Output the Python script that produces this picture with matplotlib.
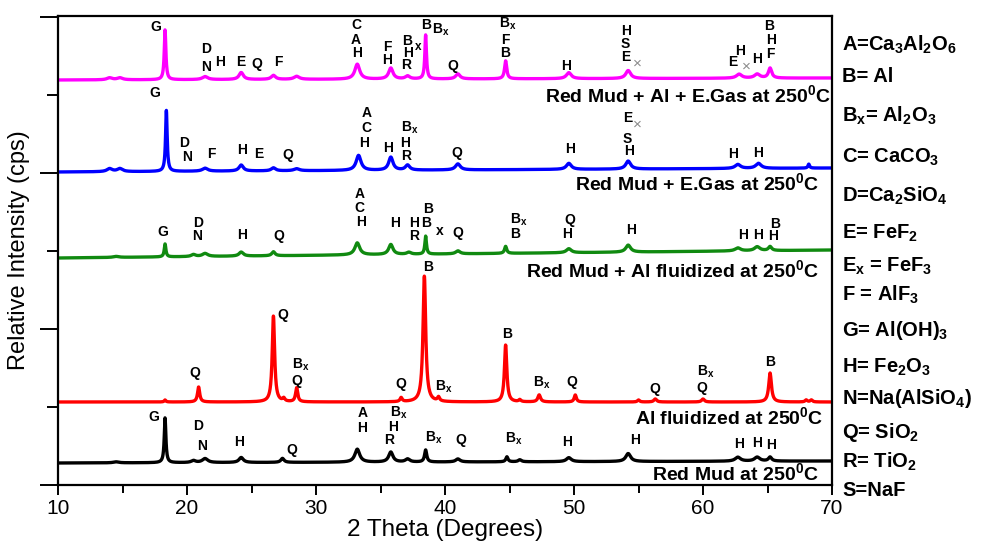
import numpy as np
import matplotlib
matplotlib.use("Agg")
import matplotlib.pyplot as plt
from matplotlib.ticker import MultipleLocator

plt.rcParams['font.family'] = ['Liberation Sans', 'DejaVu Sans']
plt.rcParams['mathtext.fontset'] = 'custom'
plt.rcParams['mathtext.rm'] = 'Liberation Sans:bold'
plt.rcParams['mathtext.it'] = 'Liberation Sans:bold'
plt.rcParams['mathtext.bf'] = 'Liberation Sans:bold'

# peak lists (2theta, height, fwhm) and baselines for each pattern
mag_pos = [14.0, 14.8, 18.3, 21.4, 24.2, 26.7, 28.5, 33.2, 35.8, 37.1, 38.5, 41.0, 44.7, 49.6, 54.2, 62.8, 64.2, 65.2]
mag_hgt = [2, 2, 50, 3, 7, 4, 3, 15, 11, 3, 44, 5, 18, 6, 8, 4, 4, 10]
mag_wid = [0.5, 0.5, 0.15, 0.5, 0.4, 0.4, 0.5, 0.45, 0.4, 0.4, 0.15, 0.4, 0.2, 0.45, 0.45, 0.5, 0.5, 0.3]
mag_base = [405, 407]

blu_pos = [14.0, 14.8, 18.4, 21.4, 24.2, 26.7, 28.5, 33.3, 35.8, 37.1, 41.0, 49.6, 54.2, 62.7, 64.3, 68.2]
blu_hgt = [3, 3, 61, 3, 6, 3, 2, 15, 13, 5, 6, 6, 8, 4, 5, 4]
blu_wid = [0.5, 0.5, 0.15, 0.5, 0.4, 0.4, 0.5, 0.45, 0.4, 0.4, 0.45, 0.45, 0.45, 0.5, 0.5, 0.15]
blu_base = [313, 317]

grn_pos = [14.5, 18.3, 20.5, 21.4, 24.2, 26.7, 33.2, 35.8, 37.2, 38.5, 41.0, 44.7, 49.6, 54.2, 62.7, 64.2, 65.2]
grn_hgt = [1, 13, 2, 3, 4, 4, 12, 10, 2, 18, 3, 7, 4, 7, 3, 4, 4]
grn_wid = [0.5, 0.15, 0.4, 0.5, 0.4, 0.3, 0.45, 0.4, 0.4, 0.15, 0.4, 0.2, 0.45, 0.45, 0.5, 0.5, 0.3]
grn_base = [227, 235]

red_pos = [18.3, 20.9, 26.7, 27.5, 28.5, 36.6, 38.4, 39.5, 44.7, 45.8, 47.3, 50.1, 55.0, 56.3, 60.0, 65.2, 68.0, 68.4]
red_hgt = [2, 15, 86, 3, 14, 4, 126, 4, 57, 2, 7, 7, 2, 3, 3, 29, 2, 2]
red_wid = [0.15, 0.2, 0.22, 0.2, 0.2, 0.2, 0.25, 0.2, 0.22, 0.2, 0.25, 0.2, 0.2, 0.25, 0.25, 0.25, 0.2, 0.2]
red_base = [83, 83]

blk_pos = [14.5, 18.3, 20.5, 21.4, 24.2, 27.4, 33.2, 35.8, 37.1, 38.5, 41.0, 44.8, 45.8, 49.6, 54.2, 62.7, 64.2, 65.2]
blk_hgt = [1, 45, 2, 4, 5, 4, 13, 10, 3, 12, 3, 5, 2, 4, 8, 4, 4, 4]
blk_wid = [0.5, 0.15, 0.4, 0.5, 0.4, 0.3, 0.45, 0.4, 0.4, 0.2, 0.4, 0.2, 0.3, 0.45, 0.45, 0.5, 0.5, 0.3]
blk_base = [22, 24]

sample_names = ["Red Mud + Al + E.Gas at 250$^0$C",
                "Red Mud + E.Gas at 250$^0$C",
                "Red Mud + Al fluidized at 250$^0$C",
                "Al fluidized at 250$^0$C",
                "Red Mud at 250$^0$C"]

phase_key = ["A=Ca$_3$Al$_2$O$_6$", "B= Al", "B$_x$= Al$_2$O$_3$", "C= CaCO$_3$",
             "D=Ca$_2$SiO$_4$", "E= FeF$_2$", "E$_x$ = FeF$_3$", "F = AlF$_3$",
             "G= Al(OH)$_3$", "H= Fe$_2$O$_3$", "N=Na(AlSiO$_4$)", "Q= SiO$_2$",
             "R= TiO$_2$", "S=NaF"]

tt = np.linspace(10, 70, 4001)


def pattern(pos, hgt, wid, base):
    y = np.interp(tt, [10, 70], base)
    for p, h, w in zip(pos, hgt, wid):
        y = y + h / (1 + ((tt - p) / (w / 2)) ** 2)
    return y


fig = plt.figure(figsize=(9.83, 5.41), dpi=100)
ax = fig.add_axes([58 / 983, 56 / 541, 774 / 983, 469 / 541])

traces = [(mag_pos, mag_hgt, mag_wid, mag_base, '#FF00FF'),
          (blu_pos, blu_hgt, blu_wid, blu_base, '#0000FF'),
          (grn_pos, grn_hgt, grn_wid, grn_base, '#108A10'),
          (red_pos, red_hgt, red_wid, red_base, '#FF0000'),
          (blk_pos, blk_hgt, blk_wid, blk_base, '#000000')]
for pos, hgt, wid, base, col in traces:
    ax.plot(tt, pattern(pos, hgt, wid, base), color=col, lw=2.4, solid_joinstyle='round')

ax.set_xlim(10, 70)
ax.set_ylim(0, 469)
ax.xaxis.set_major_locator(MultipleLocator(10))
ax.xaxis.set_minor_locator(MultipleLocator(5))
ax.yaxis.set_major_locator(MultipleLocator(156))
ax.yaxis.set_minor_locator(MultipleLocator(78))
ax.set_yticklabels([])
ax.tick_params(axis='x', which='major', direction='out', length=7, width=1.4, labelsize=15, pad=3)
ax.tick_params(axis='x', which='minor', direction='out', length=6, width=1.4)
ax.tick_params(axis='y', which='major', direction='out', length=13, width=1.4)
ax.tick_params(axis='y', which='minor', direction='out', length=8, width=1.4)
for s in ax.spines.values():
    s.set_linewidth(1.6)
ax.set_xlabel("2 Theta (Degrees)", fontsize=17.5, labelpad=1)
ax.set_ylabel("Relative Intensity (cps)", fontsize=17, labelpad=4)


def py(v):
    # label heights are given in pixels from the top of the figure
    return 485 - v


# (text, 2theta, height) for peak letters
peak_labels = [
    # top pattern
    ("G", 17.6, 27), ("D", 21.5, 49), ("N", 21.5, 67), ("H", 22.6, 62), ("E", 24.2, 62),
    ("Q", 25.4, 64), ("F", 27.1, 62), ("C", 33.1, 25), ("A", 33.1, 40), ("H", 33.2, 53),
    ("F", 35.5, 47), ("H", 35.5, 60), ("B", 37.1, 41), ("H", 37.1, 53), ("R", 37.0, 65),
    ("B", 38.5, 25), ("B$_x$", 39.7, 30), ("Q", 40.6, 66), ("B$_x$", 44.9, 24), ("F", 44.65, 40),
    ("B", 44.65, 53), ("H", 49.4, 66), ("H", 54.0, 31), ("S", 54.0, 44), ("E", 54.0, 57),
    ("H", 62.9, 51), ("E", 62.3, 62), ("H", 64.2, 59), ("B", 65.1, 26), ("H", 65.3, 40),
    ("F", 65.2, 54),
    # second pattern
    ("G", 17.5, 93), ("D", 19.8, 143), ("N", 20.0, 157), ("F", 21.9, 154), ("H", 24.3, 150),
    ("E", 25.6, 154), ("Q", 27.8, 155), ("A", 33.9, 113), ("C", 33.9, 128), ("H", 33.7, 143),
    ("H", 35.6, 148), ("B$_x$", 37.3, 128), ("H", 36.9, 143), ("R", 37.0, 156), ("Q", 40.9, 153),
    ("H", 49.7, 149), ("E", 54.2, 118), ("S", 54.1, 139), ("H", 54.3, 151), ("H", 62.3, 154),
    ("H", 64.3, 153),
    # third pattern
    ("G", 18.1, 232), ("D", 20.9, 223), ("N", 20.8, 236), ("H", 24.3, 235), ("Q", 27.1, 236),
    ("A", 33.4, 194), ("C", 33.4, 208), ("H", 33.5, 222), ("H", 36.1, 223), ("H", 37.6, 223),
    ("R", 37.6, 236), ("B", 38.7, 209), ("B", 38.55, 223), ("x", 39.6, 231), ("Q", 41.0, 233),
    ("B$_x$", 45.7, 220), ("B", 45.4, 234), ("Q", 49.7, 220), ("H", 49.5, 234), ("H", 54.4, 230),
    ("H", 63.1, 235), ("H", 64.3, 235), ("H", 65.4, 236), ("B", 65.6, 224),
    # fourth pattern
    ("B", 38.7, 267), ("Q", 27.4, 315), ("Q", 20.6, 373), ("B$_x$", 28.8, 365), ("Q", 28.5, 381),
    ("Q", 36.6, 384), ("B$_x$", 39.9, 387), ("B", 44.8, 334), ("B$_x$", 47.5, 383), ("Q", 49.8, 382),
    ("Q", 56.3, 389), ("B$_x$", 60.2, 372), ("Q", 59.9, 388), ("B", 65.2, 362),
    # bottom pattern
    ("G", 17.4, 417), ("D", 20.9, 426), ("N", 21.2, 446), ("H", 24.0, 442), ("Q", 28.1, 450),
    ("A", 33.6, 413), ("H", 33.6, 428), ("B$_x$", 36.4, 413), ("H", 36.0, 427), ("R", 35.7, 440),
    ("B$_x$", 39.1, 438), ("Q", 41.2, 440), ("B$_x$", 45.3, 439), ("H", 49.5, 442), ("H", 54.7, 440),
    ("H", 62.8, 444), ("H", 64.2, 443), ("H", 65.3, 445),
]
for txt, x, y in peak_labels:
    ax.text(x, py(y), txt, fontsize=10, fontweight='bold', ha='center', va='center')

# small "x" beside the stacked B/H letters of the top pattern
ax.text(37.9, py(47), "x", fontsize=8.5, fontweight='bold', ha='center', va='center')

# grey crosses of FeF3
for x, y in [(54.9, 64), (63.4, 67), (54.9, 125)]:
    ax.text(x, py(y), "\u00d7", fontsize=11, color='#8A8A8A', ha='center', va='center')

sample_y = [95, 183, 270, 417, 473]
sample_x = [69.9, 69.0, 69.0, 69.3, 69.0]
for name, x, y in zip(sample_names, sample_x, sample_y):
    ax.text(x, py(y), name, fontsize=14, fontweight='bold', ha='right', va='center')

key_y = [45, 76, 116, 157, 196, 233, 266, 295, 331, 367, 398, 432, 462, 490]
for txt, y in zip(phase_key, key_y):
    fig.text(842 / 983, 1 - y / 541, txt, fontsize=14.5, fontweight='bold', ha='left', va='center')

fig.savefig("out.png", dpi=100)
